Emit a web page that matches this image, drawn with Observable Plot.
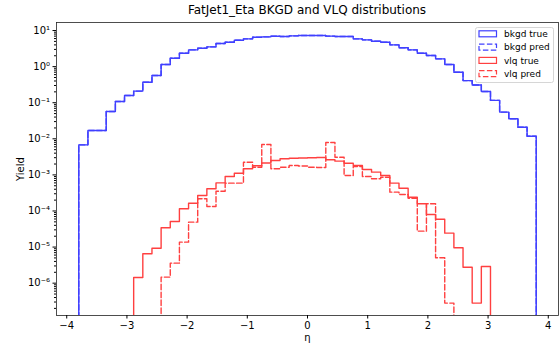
<!DOCTYPE html>
<html><head><meta charset="utf-8">
<script src="https://cdn.jsdelivr.net/npm/d3@7"></script>
<script src="https://cdn.jsdelivr.net/npm/@observablehq/plot@0.6"></script>
<style>
body{margin:0;background:#fff;font-family:"DejaVu Sans",sans-serif;}
#wrap{position:relative;width:560px;height:345px;overflow:hidden;}
#title{height:20px;margin-left:56px;width:502px;text-align:center;font-size:12px;line-height:21px;color:#000;white-space:nowrap;}
#legend{position:absolute;left:475px;top:26.5px;}
</style></head><body>
<div id="wrap"><div id="title">FatJet1_Eta BKGD and VLQ distributions</div><div id="chart"></div><div id="legend"></div></div>
<script>
const binEdges = [-3.8,-3.648,-3.496,-3.344,-3.192,-3.04,-2.888,-2.736,-2.584,-2.432,-2.28,-2.128,-1.976,-1.824,-1.672,-1.52,-1.368,-1.216,-1.064,-0.912,-0.76,-0.608,-0.456,-0.304,-0.152,0,0.152,0.304,0.456,0.608,0.76,0.912,1.064,1.216,1.368,1.52,1.672,1.824,1.976,2.128,2.28,2.432,2.584,2.736,2.888,3.04,3.192,3.344,3.496,3.648,3.8];
const bkgdTrue = [0.0068,0.017,0.017,0.057,0.108,0.158,0.21,0.37,0.57,1.14,1.71,2.35,2.92,3.23,3.53,4.36,4.74,5.38,5.89,6.52,6.69,6.95,6.82,7.13,7.26,7.26,7.26,7.0,6.82,6.82,5.89,5.52,5.05,4.74,4.01,3.32,2.92,2.35,2.03,1.64,1.14,0.70,0.41,0.31,0.205,0.116,0.055,0.036,0.021,0.0118];
const bkgdPred = [0.0068,0.017,0.017,0.057,0.108,0.158,0.21,0.37,0.57,1.14,1.71,2.35,2.92,3.23,3.53,4.36,4.74,5.38,5.89,6.52,6.69,6.95,6.82,7.13,7.26,7.26,7.26,7.0,6.82,6.82,5.89,5.52,5.05,4.74,4.01,3.32,2.92,2.35,2.03,1.64,1.14,0.70,0.41,0.31,0.205,0.116,0.055,0.036,0.021,0.0118];
const vlqTrue = [0,0,0,0,0,0,1.44e-6,6.5e-6,9.3e-6,3.43e-5,5.1e-5,1.15e-4,1.64e-4,2.69e-4,4.12e-4,6.0e-4,9.0e-4,1.11e-3,1.48e-3,1.79e-3,2.14e-3,2.51e-3,2.79e-3,2.90e-3,2.94e-3,2.98e-3,3.03e-3,2.62e-3,2.40e-3,2.11e-3,1.82e-3,1.41e-3,1.19e-3,9.6e-4,5.9e-4,4.28e-4,2.41e-4,1.58e-4,8.0e-5,5.9e-5,2.43e-5,9.6e-6,2.77e-6,2.8e-7,2.9e-6,0,0,0,0,0];
const vlqPred = [0,0,0,0,0,0,0,0,0,1.47e-6,3.58e-6,1.37e-5,4.9e-5,2.18e-4,1.33e-4,3.53e-4,5.9e-4,5.9e-4,2.25e-3,1.63e-3,6.95e-3,1.48e-3,1.63e-3,1.82e-3,1.77e-3,1.63e-3,1.60e-3,7.9e-3,3.09e-3,9.6e-4,1.71e-3,9.0e-4,7.8e-4,8.6e-4,3.32e-4,2.86e-4,2.26e-4,2.76e-5,1.58e-4,5.06e-6,2.8e-7,0,0,0,0,0,0,0,0,0];
const seriesNames = ["bkgd true","bkgd pred","vlq true","vlq pred"];
const seriesColors = ["#4040ff","#4040ff","#ff4040","#ff4040"];
const seriesDash = [null,"5.5,2.4",null,"5.5,2.4"];
const xTicks = [-4,-3,-2,-1,0,1,2,3,4];
const yTicks = [1e-6,1e-5,1e-4,1e-3,1e-2,1e-1,1,10];
const yTickLabels = ["10\u207B\u2076","10\u207B\u2075","10\u207B\u2074","10\u207B\u00B3","10\u207B\u00B2","10\u207B\u00B9","10\u2070","10\u00B9"];
const yMinor = [];
for (const d of [1e-7,1e-6,1e-5,1e-4,1e-3,1e-2,1e-1,1,10]) for (const m of [2,3,4,5,6,7,8,9]) yMinor.push(m*d);

const FLOOR = 1e-12;
function stepPoints(values){
  const pts = [{x:binEdges[0], y:FLOOR}];
  values.forEach((v,i)=>{
    const y = v > 0 ? v : FLOOR;
    pts.push({x:binEdges[i], y});
    pts.push({x:binEdges[i+1], y});
  });
  pts.push({x:binEdges[binEdges.length-1], y:FLOOR});
  return pts;
}
const seriesValues = [bkgdTrue,bkgdPred,vlqTrue,vlqPred];
const drawOrder = [1,0,2,3];
const yLabelFor = d => {
  let best = 0;
  yTicks.forEach((t,i)=>{ if (Math.abs(Math.log10(t)-Math.log10(d)) < Math.abs(Math.log10(yTicks[best])-Math.log10(d))) best = i; });
  return yTickLabels[best];
};

const chart = Plot.plot({
  width:560, height:325,
  marginTop:2, marginBottom:30, marginLeft:56, marginRight:2,
  x:{domain:[-4.17,4.17]},
  y:{type:"log", domain:[1.27e-7,16.7]},
  style:{fontFamily:"DejaVu Sans, sans-serif", fontSize:"10px", color:"#000", background:"white", overflow:"visible"},
  marks:[
    ...drawOrder.map(si => Plot.line(stepPoints(seriesValues[si]), {
      x:"x", y:"y", stroke:seriesColors[si], strokeWidth:1.4,
      strokeDasharray: seriesDash[si] ?? undefined, clip:true
    })),
    Plot.frame({stroke:"#222", strokeWidth:0.8}),
    Plot.axisY({ticks:yMinor.filter(d=>d>1.27e-7 && d<16.7), tickSize:2, tickFormat:()=>"", label:null}),
    Plot.axisX({ticks:xTicks, tickSize:3.5, tickPadding:3, label:"η", labelAnchor:"center", labelArrow:"none", labelOffset:25}),
    Plot.axisY({ticks:yTicks, tickSize:3.5, tickPadding:3, tickFormat:yLabelFor, label:"Yield", labelAnchor:"center", labelArrow:"none", labelOffset:40})
  ]
});
document.getElementById("chart").appendChild(chart);

// legend
const lg = d3.select("#legend").append("svg").attr("width",80).attr("height",57)
  .style("font-family","DejaVu Sans, sans-serif").style("font-size","9px");
lg.append("rect").attr("x",0.5).attr("y",0.5).attr("width",78).attr("height",55).attr("rx",2)
  .attr("fill","white").attr("fill-opacity",0.8).attr("stroke","#cccccc").attr("stroke-width",0.8);
seriesNames.forEach((name,i)=>{
  const cy = 6.8 + i*13.3;
  lg.append("rect").attr("x",4).attr("y",cy-3).attr("width",17.5).attr("height",6)
    .attr("fill","none").attr("stroke",seriesColors[i]).attr("stroke-width",1.2)
    .attr("stroke-dasharray", seriesDash[i]);
  lg.append("text").attr("x",29).attr("y",cy+3.2).attr("fill","#000").text(name);
});
</script>
</body></html>
